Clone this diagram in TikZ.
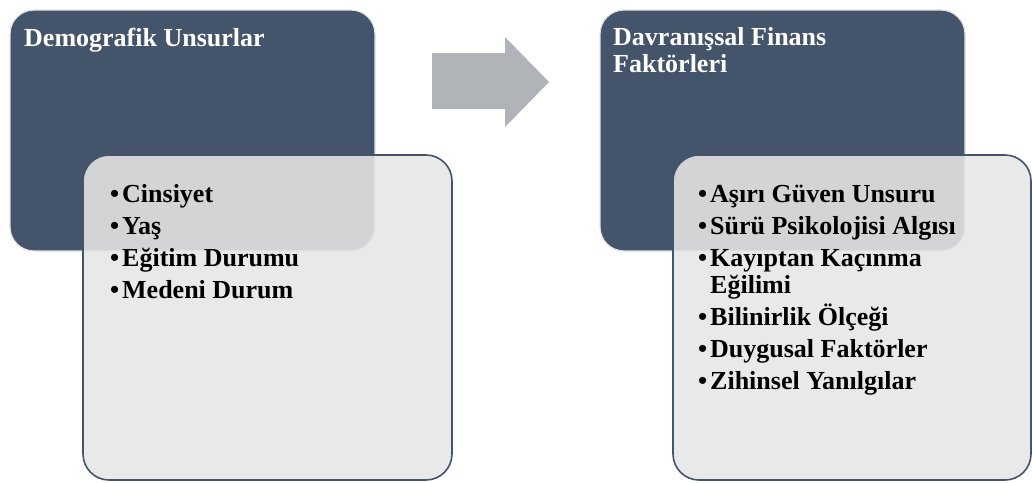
\documentclass[tikz,border=0pt]{standalone}
\usepackage{fontspec}
\setmainfont{Liberation Serif}
\usetikzlibrary{positioning}

\definecolor{slate}{RGB}{68,84,106}
\definecolor{panelgray}{RGB}{230,230,230}
\definecolor{arrowgray}{RGB}{176,179,184}

\tikzset{
  darkbox/.style={draw=gray!20, line width=1.2pt, fill=slate, rounded corners=24pt},
  lightpanel/.style={draw=slate, line width=1.6pt, fill=panelgray, fill opacity=0.88, rounded corners=26pt},
  title/.style={anchor=base west, inner sep=0pt, text=white, font=\bfseries\fontsize{26}{27}\selectfont},
  item/.style={anchor=base west, inner sep=0pt, font=\bfseries\fontsize{26}{27}\selectfont},
}
\newcommand{\bul}{\makebox[12pt][l]{\textbullet}}

\begin{document}
\begin{tikzpicture}[x=1pt, y=-1pt]
\useasboundingbox (0,0) rectangle (1032,482);

% left group
\draw[darkbox] (10,10) rectangle (375,251);
\node[title] (demo) at (24,46) {Demografik Unsurlar};
\draw[lightpanel] (83,155) rectangle (452,480);
\foreach \y/\t [count=\i] in {202/Cinsiyet, 234/Yaş, 266/Eğitim Durumu, 298/Medeni Durum}
  \node[item] (d\i) at (110,\y) {\bul\t};

% arrow
\fill[arrowgray] (432,53) -- (505,53) -- (505,37) -- (549,82) -- (505,127) -- (505,109) -- (432,109) -- cycle;

% right group
\draw[darkbox] (600,10) rectangle (965,251);
\node[title] (fin1) at (613,45) {Davranışsal Finans};
\node[title] (fin2) at (613,72) {Faktörleri};
\draw[lightpanel] (673,155) rectangle (1031,480);
\foreach \y/\t [count=\i] in {202/Aşırı Güven Unsuru, 234/Sürü Psikolojisi Algısı, 266/Kayıptan Kaçınma, 325/Bilinirlik Ölçeği, 357/Duygusal Faktörler, 389/Zihinsel Yanılgılar}
  \node[item] (f\i) at (698,\y) {\bul\t};
\node[item] (f3b) at (710,293) {Eğilimi};
\end{tikzpicture}
\end{document}
